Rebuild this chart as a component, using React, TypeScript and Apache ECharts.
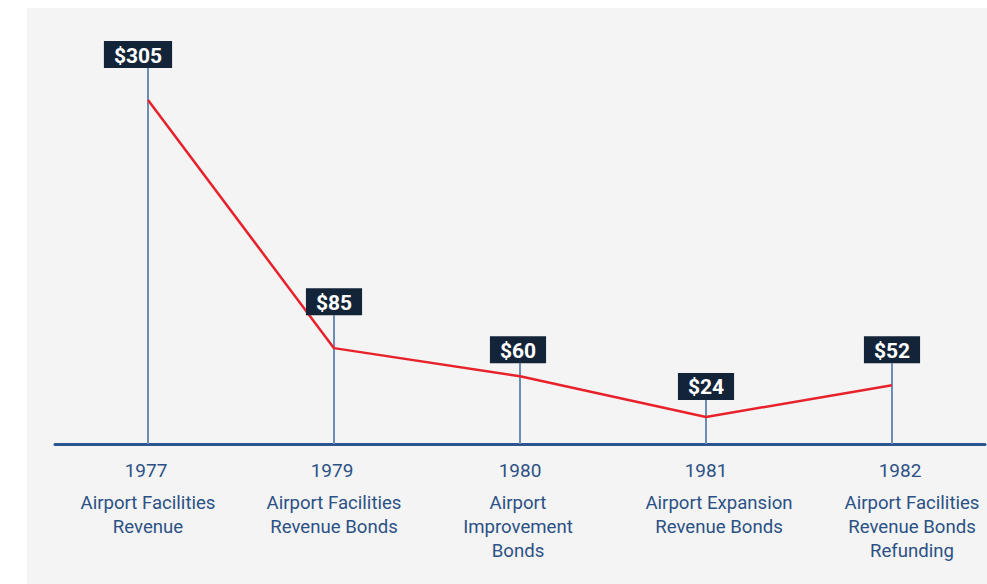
import React, { useEffect, useRef } from "react";
import * as echarts from "echarts";

const years = ["1977", "1979", "1980", "1981", "1982"];
const descriptions = [
  ["Airport Facilities", "Revenue"],
  ["Airport Facilities", "Revenue Bonds"],
  ["Airport", "Improvement", "Bonds"],
  ["Airport Expansion", "Revenue Bonds"],
  ["Airport Facilities", "Revenue Bonds", "Refunding"],
];
const amounts = [305, 85, 60, 24, 52];

// layout only: pixel gap between each point and the bottom of its value tag
const tagGaps = [32, 33, 13, 17, 22];
// layout only: horizontal pixel shifts of tags / labels relative to the stem
const tagShift = [-10, 0, -2, 0, 0];
const yearShift = [-2, -2, 0, 0, 8];
const descShift = [0, 0, -2, 13, 20];

const pad = (s: number) => (s >= 0 ? [0, 0, 0, 2 * s] : [0, -2 * s, 0, 0]);

const rich: Record<string, any> = {};
years.forEach((_, i) => {
  rich["y" + i] = {
    fontFamily: "Roboto",
    fontSize: 19,
    color: "#2b5185",
    lineHeight: 42,
    align: "center",
    padding: pad(yearShift[i]),
  };
  rich["d" + i] = {
    fontFamily: "Roboto",
    fontSize: 18.6,
    color: "#2b5185",
    lineHeight: 24,
    align: "center",
    padding: pad(descShift[i]),
  };
});

export default function App() {
  const ref = useRef<HTMLDivElement>(null);
  useEffect(() => {
    if (!ref.current) return;
    const chart = echarts.init(ref.current, null, { renderer: "svg" });
    const pts = amounts.map((v, i) => [i, v]);
    chart.setOption({
      animation: false,
      graphic: [
        {
          type: "rect",
          z: -10,
          silent: true,
          shape: { x: 27, y: 8, width: 960, height: 576 },
          style: { fill: "#f4f4f4" },
        },
      ],
      grid: { left: 55, right: 2, top: 100, bottom: 140 },
      xAxis: {
        type: "category",
        data: years,
        boundaryGap: true,
        axisLine: { show: true, lineStyle: { color: "#2a5590", width: 3 } },
        axisTick: { show: false },
        splitLine: { show: false },
        axisLabel: {
          interval: 0,
          margin: 5,
          formatter: (val: string, idx: number) =>
            `{y${idx}|${val}}\n` +
            descriptions[idx].map((l) => `{d${idx}|${l}}`).join("\n"),
          rich,
        },
      },
      yAxis: {
        type: "value",
        min: 0,
        max: 305,
        show: false,
        splitLine: { show: false },
      },
      series: [
        {
          type: "custom",
          z: 1,
          clip: false,
          data: pts,
          renderItem: (params: any, api: any) => {
            const i = api.value(0);
            const v = api.value(1);
            const p = api.coord([i, v]);
            const b = api.coord([i, 0]);
            const top = p[1] - tagGaps[params.dataIndex];
            return {
              type: "line",
              shape: { x1: p[0], y1: top, x2: b[0], y2: b[1] },
              style: { stroke: "#6b8db7", lineWidth: 2 },
            };
          },
        },
        {
          type: "line",
          z: 2,
          data: amounts,
          symbol: "none",
          lineStyle: { color: "#e8222a", width: 2.5 },
        },
        {
          type: "custom",
          z: 3,
          clip: false,
          data: pts,
          renderItem: (params: any, api: any) => {
            const i = api.value(0);
            const v = api.value(1);
            const p = api.coord([i, v]);
            const top = p[1] - tagGaps[params.dataIndex];
            return {
              type: "text",
              x: p[0] + tagShift[params.dataIndex],
              y: top,
              style: {
                text: "$" + v,
                fill: "#ffffff",
                fontFamily: "Roboto",
                fontWeight: "bold",
                fontSize: 21,
                lineHeight: 23,
                align: "center",
                verticalAlign: "bottom",
                backgroundColor: "#142438",
                padding: [3, 10, 1, 10],
              },
            };
          },
        },
      ],
    });
    return () => chart.dispose();
  }, []);
  return (
    <div
      ref={ref}
      style={{ position: "absolute", left: 0, top: 0, width: 987, height: 584 }}
    />
  );
}
